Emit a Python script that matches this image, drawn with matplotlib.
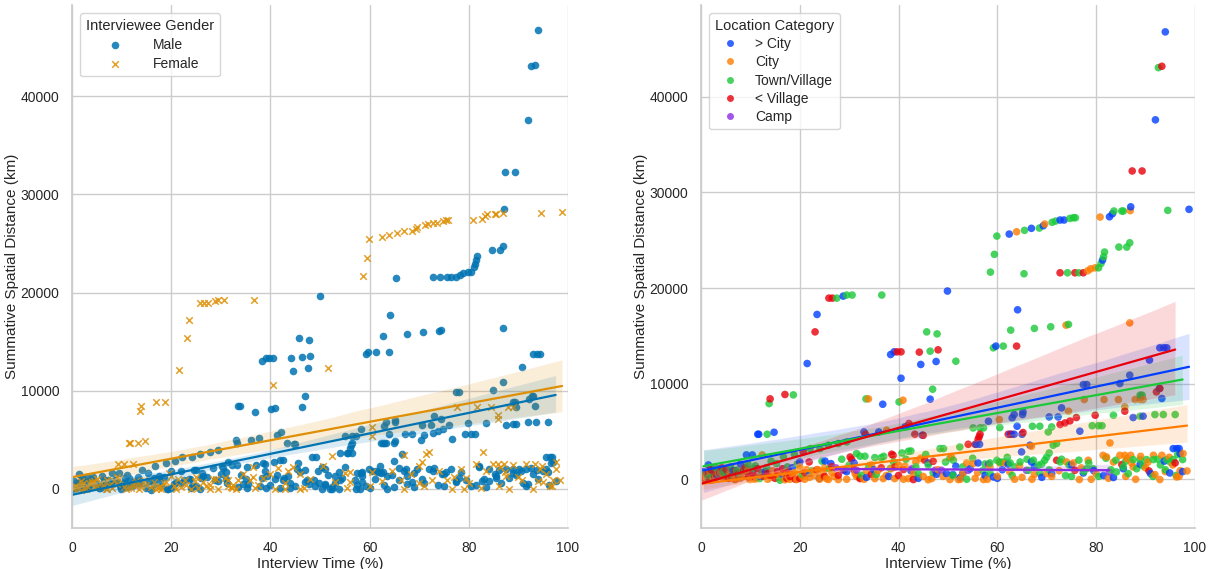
import matplotlib
matplotlib.use("Agg")
import matplotlib.pyplot as plt
from matplotlib.lines import Line2D
import seaborn as sns
import pandas as pd

# points as (interview time %, summative distance km, gender) per location category
city_plus = [
    (94.0, 46800, 'M'), (92.0, 37600, 'M'), (87.0, 28500, 'M'), (83.3, 27780, 'F'), (82.7, 27460, 'F'),
    (98.8, 28240, 'F'), (62.4, 25650, 'F'), (66.9, 26250, 'F'), (69.3, 26520, 'F'), (72.7, 27120, 'F'),
    (73.5, 27120, 'F'), (81.3, 22930, 'M'), (28.8, 19160, 'F'), (49.9, 19690, 'M'), (23.5, 17240, 'F'),
    (21.5, 12110, 'F'), (38.4, 13050, 'M'), (39.1, 13330, 'M'), (40.5, 10570, 'F'), (44.5, 12010, 'M'),
    (47.6, 12320, 'M'), (36.8, 7850, 'M'), (46.4, 8380, 'M'), (11.5, 4710, 'F'), (11.7, 4710, 'F'),
    (14.8, 4920, 'F'), (9.2, 2550, 'F'), (10.4, 2550, 'F'), (64.1, 17730, 'M'), (59.7, 13930, 'M'),
    (92.9, 13750, 'M'), (93.7, 13750, 'M'), (94.3, 13750, 'M'), (90.8, 12460, 'M'), (86.8, 10890, 'M'),
    (77.4, 9910, 'M'), (78.1, 9910, 'M'), (84.8, 10020, 'M'), (73.0, 7470, 'M'), (92.8, 9500, 'M'),
    (93.3, 8450, 'M'), (63.0, 6420, 'M'), (63.4, 6770, 'M'), (65.1, 6770, 'M'), (65.2, 7050, 'M'),
    (70.5, 6520, 'M'), (72.3, 6520, 'M'), (58.2, 6070, 'M'), (64.0, 5550, 'M'), (62.6, 4710, 'M'),
    (63.4, 4710, 'M'), (65.0, 4710, 'M'), (55.7, 3660, 'M'), (56.4, 3660, 'M'), (76.7, 5030, 'M'),
    (87.5, 6460, 'M'), (89.5, 6600, 'M'), (64.9, 2860, 'M'), (66.6, 3560, 'M'), (94.9, 660, 'F'),
    (83.5, 180, 'M'), (77.4, 660, 'M'), (88.9, 1570, 'M'), (95.6, 3210, 'M'), (96.3, 3210, 'M'),
    (96.8, 3210, 'M'), (97.0, 2690, 'M'), (59.2, 240, 'M'), (51.6, 1360, 'M'), (53.0, 660, 'F'),
    (26.3, 1640, 'M'), (47.7, 520, 'M'), (49.7, 600, 'M'), (25.1, 1920, 'M'), (20.0, 1810, 'M'),
    (33.0, 4950, 'M'), (36.0, 4950, 'M'), (41.3, 5480, 'M'), (44.8, 4610, 'M'), (2.0, 1200, 'M'),
    (4.0, 600, 'F'), (0.5, 800, 'M'), (1.5, 1500, 'M'), (3.5, 300, 'M'), (6.5, 900, 'M'),
    (8.0, 1600, 'M'), (13.0, 800, 'F'), (16.5, 500, 'M'), (18.5, 1200, 'M'), (22.0, 600, 'M'),
    (29.5, 800, 'M'), (31.0, 1700, 'M'), (35.0, 1000, 'M'), (38.0, 300, 'M'), (42.5, 900, 'M'),
    (46.0, 1700, 'M'), (51.0, 500, 'M'), (54.5, 1100, 'M'), (57.5, 400, 'M'), (61.0, 1000, 'M'),
    (67.5, 1300, 'M'), (71.0, 600, 'M'), (75.0, 1500, 'M'), (79.5, 900, 'M'), (81.5, 400, 'M'),
    (85.5, 1100, 'M'), (91.0, 600, 'M'), (93.8, 1900, 'M'), (97.5, 800, 'M'), (5.5, 200, 'M'),
    (12.0, 300, 'M'), (24.0, 100, 'M'), (33.5, 200, 'M'), (44.0, 100, 'M'), (52.5, 200, 'M'),
    (60.0, 100, 'M'), (69.0, 200, 'M'), (66.9, 1810, 'M'), (62.2, 1570, 'M'), (56.1, 1710, 'F'),
]

city = [
    (86.9, 28100, 'F'), (80.8, 27430, 'F'), (63.9, 25890, 'F'), (69.6, 26700, 'F'), (78.3, 21810, 'M'),
    (78.9, 22020, 'M'), (79.8, 22120, 'M'), (12.4, 2550, 'F'), (33.9, 8410, 'M'), (40.9, 8270, 'M'),
    (86.8, 16360, 'M'), (73.9, 16120, 'M'), (77.6, 8340, 'F'), (81.6, 8340, 'F'), (84.5, 8340, 'F'),
    (87.9, 8340, 'F'), (88.9, 8340, 'F'), (89.5, 8340, 'M'), (85.8, 7570, 'F'), (74.4, 7120, 'M'),
    (60.4, 6250, 'F'), (82.8, 3800, 'F'), (66.9, 3450, 'F'), (84.8, 2510, 'F'), (85.8, 2510, 'F'),
    (87.0, 2510, 'F'), (86.2, 2170, 'F'), (87.2, 1710, 'F'), (87.5, 1290, 'F'), (78.4, 1990, 'F'),
    (81.4, 2510, 'F'), (82.1, 2340, 'M'), (91.6, 2510, 'F'), (93.3, 2510, 'F'), (97.6, 2690, 'F'),
    (98.4, 870, 'F'), (92.9, -30, 'F'), (96.3, 240, 'F'), (91.9, 490, 'M'), (76.6, -30, 'F'),
    (74.0, 1810, 'F'), (75.4, 1710, 'M'), (60.5, 1710, 'F'), (61.6, 1710, 'M'), (58.5, 1290, 'M'),
    (57.2, -30, 'M'), (55.1, 1640, 'F'), (53.8, 1710, 'M'), (52.1, -30, 'M'), (50.4, -30, 'M'),
    (37.6, 5130, 'M'), (50.7, 2330, 'F'), (40.0, 1470, 'F'), (41.3, 1360, 'M'), (35.2, 70, 'M'),
    (36.9, 70, 'F'), (39.2, 70, 'M'), (42.0, 70, 'M'), (46.7, 70, 'F'), (25.8, -30, 'M'),
    (27.8, -30, 'F'), (30.8, 1120, 'F'), (31.2, 600, 'M'), (21.4, 1010, 'F'), (22.7, 870, 'F'),
    (23.7, 1010, 'M'), (24.8, 770, 'F'), (17.7, 240, 'F'), (19.4, -30, 'M'), (9.9, -30, 'M'),
    (11.3, 70, 'F'), (16.0, 180, 'F'), (24.1, 240, 'M'), (25.4, 70, 'F'), (3.0, 300, 'F'),
    (5.5, 100, 'M'), (7.5, 400, 'F'), (45.0, 300, 'M'), (65.0, 200, 'M'), (70.0, 600, 'F'),
    (1.0, 200, 'F'), (2.0, 500, 'F'), (4.0, 700, 'F'), (6.0, 200, 'F'), (8.5, 800, 'F'),
    (12.0, 400, 'F'), (14.5, 900, 'F'), (18.5, 600, 'F'), (20.5, 300, 'F'), (26.5, 700, 'F'),
    (28.5, 1000, 'F'), (32.0, 200, 'F'), (33.5, 900, 'F'), (34.5, 1500, 'F'), (37.5, 400, 'F'),
    (43.5, 1800, 'F'), (44.5, 2200, 'F'), (48.0, 1000, 'F'), (53.0, 600, 'M'), (56.0, 700, 'F'),
    (62.5, 800, 'F'), (64.5, 1400, 'M'), (67.5, 500, 'M'), (72.5, 900, 'F'), (77.0, 1200, 'F'),
    (80.0, 600, 'F'), (83.5, 1800, 'F'), (89.0, 2400, 'F'), (90.5, 1800, 'M'), (94.8, 2300, 'F'),
    (95.5, 1500, 'F'), (97.0, 900, 'F'), (0.2, 0, 'F'), (1.5, 100, 'F'), (2.5, -50, 'F'),
    (3.5, 600, 'F'), (5.0, 300, 'F'), (6.8, 0, 'F'), (8.0, 100, 'F'), (9.0, 500, 'F'),
    (10.5, 200, 'F'), (13.5, 0, 'F'), (15.0, 400, 'F'), (17.0, -50, 'F'), (19.0, 700, 'F'),
    (21.0, 0, 'F'), (23.0, 400, 'F'), (25.0, 1200, 'F'), (27.0, 300, 'F'), (29.5, 0, 'F'),
    (31.5, 300, 'F'), (33.0, 0, 'F'), (35.8, 900, 'F'), (38.5, 1100, 'F'), (41.0, 0, 'F'),
    (43.0, 600, 'F'), (46.0, -50, 'F'), (49.0, 300, 'M'), (52.5, 0, 'M'), (55.5, 100, 'F'),
    (58.0, 0, 'M'), (60.0, 300, 'F'), (63.5, 0, 'M'), (67.0, 0, 'F'), (71.0, 300, 'F'),
    (79.0, 0, 'F'), (82.5, 100, 'F'), (86.0, 300, 'F'), (88.0, 0, 'F'), (90.0, 1200, 'F'),
    (94.0, 800, 'F'), (96.8, 300, 'F'), (0.7, 300, 'F'), (1.8, 800, 'F'), (2.8, 0, 'F'),
    (4.5, 200, 'F'), (5.8, 600, 'F'), (7.0, -50, 'F'), (9.5, 1000, 'F'), (10.8, 0, 'F'),
    (12.8, 600, 'F'), (14.0, 200, 'F'), (16.5, 700, 'F'), (18.0, 0, 'F'), (20.0, 1300, 'F'),
    (22.0, 200, 'F'), (24.0, 0, 'F'),
]

town = [
    (92.6, 43060, 'M'), (85.2, 28060, 'F'), (85.5, 28060, 'F'), (83.6, 28060, 'F'), (94.5, 28130, 'F'),
    (59.9, 25440, 'F'), (65.5, 26040, 'F'), (68.5, 26280, 'F'), (71.1, 26880, 'F'), (71.8, 27010, 'F'),
    (74.7, 27290, 'F'), (75.4, 27360, 'F'), (75.8, 27360, 'F'), (59.4, 23530, 'F'), (58.6, 21670, 'F'),
    (65.4, 21500, 'M'), (74.2, 21600, 'M'), (76.5, 21600, 'M'), (80.5, 22120, 'M'), (81.0, 22580, 'M'),
    (81.5, 23270, 'M'), (81.7, 23770, 'M'), (84.6, 24290, 'M'), (86.2, 24290, 'M'), (86.8, 24740, 'M'),
    (27.5, 18950, 'F'), (29.5, 19270, 'F'), (30.6, 19270, 'F'), (36.6, 19270, 'F'), (13.8, 7920, 'F'),
    (18.7, 8830, 'F'), (13.4, 4710, 'F'), (45.7, 15420, 'M'), (47.8, 15210, 'M'), (46.4, 13400, 'M'),
    (33.4, 8410, 'M'), (46.9, 9420, 'M'), (40.1, 8090, 'M'), (59.2, 13750, 'M'), (61.2, 13930, 'M'),
    (62.7, 15600, 'M'), (67.5, 15780, 'M'), (70.8, 15950, 'M'), (74.4, 16200, 'M'), (51.6, 12350, 'F'),
    (88.9, 8800, 'M'), (89.3, 8800, 'M'), (91.9, 6770, 'M'), (93.6, 6770, 'M'), (96.0, 6770, 'M'),
    (88.9, 6600, 'M'), (83.5, 6700, 'M'), (79.2, 5600, 'M'), (80.5, 5600, 'M'), (81.2, 5600, 'M'),
    (67.1, 5550, 'M'), (68.6, 5550, 'M'), (70.3, 4950, 'M'), (71.0, 5480, 'M'), (55.1, 5370, 'M'),
    (56.5, 5370, 'M'), (57.2, 5370, 'M'), (60.5, 5410, 'F'), (70.0, 2330, 'F'), (70.5, 2750, 'F'),
    (71.3, 3560, 'F'), (72.0, 3740, 'F'), (68.3, 1470, 'F'), (87.5, 2060, 'M'), (88.9, 2060, 'M'),
    (90.2, 2060, 'M'), (91.6, 2060, 'M'), (94.3, 2060, 'F'), (95.6, 2060, 'M'), (97.5, 2060, 'F'),
    (78.1, 1120, 'M'), (79.4, 1120, 'F'), (84.1, 770, 'M'), (58.5, 660, 'M'), (57.1, 940, 'M'),
    (59.9, 1990, 'M'), (61.2, 1810, 'M'), (64.6, 1810, 'F'), (68.6, 660, 'M'), (53.8, 0, 'M'),
    (52.4, 3380, 'F'), (50.4, 2170, 'M'), (51.1, 1990, 'M'), (58.5, 1710, 'M'), (60.5, 1810, 'M'),
    (32.2, 2410, 'M'), (33.2, 2410, 'M'), (35.2, 2270, 'M'), (36.5, 2270, 'F'), (40.7, 2750, 'M'),
    (42.0, 2930, 'M'), (42.5, 2960, 'M'), (48.4, 3210, 'M'), (49.1, 3210, 'M'), (38.3, 1120, 'M'),
    (29.5, 3910, 'M'), (27.8, 3740, 'M'), (25.8, 3560, 'M'), (32.5, 420, 'F'), (15.3, 1640, 'M'),
    (16.7, 2330, 'M'), (18.9, 2620, 'M'), (22.1, 3210, 'M'), (24.1, 3210, 'M'), (6.5, 240, 'F'),
    (7.2, 940, 'M'), (8.9, 940, 'M'), (10.6, 1120, 'M'), (13.3, 1230, 'M'), (3.8, 1010, 'M'),
    (1.5, 240, 'M'), (11.9, 70, 'F'), (16.0, -100, 'M'), (20.5, 500, 'M'), (44.0, 600, 'M'),
    (46.0, 1500, 'F'), (63.0, 400, 'M'), (75.0, 300, 'M'), (85.5, 1300, 'M'), (0.5, 100, 'F'),
    (5.0, 500, 'M'), (0.8, 600, 'M'), (2.2, 300, 'M'), (3.0, 1200, 'M'), (4.5, 800, 'F'),
    (6.0, 1300, 'M'), (7.8, 500, 'M'), (9.5, 1600, 'M'), (11.0, 1400, 'M'), (12.5, 700, 'M'),
    (14.2, 1900, 'M'), (17.5, 1300, 'M'), (19.5, 1600, 'F'), (22.5, 900, 'M'), (24.5, 1900, 'M'),
    (26.0, 1100, 'M'), (28.5, 2100, 'M'), (30.0, 1500, 'M'), (31.5, 2700, 'M'), (34.0, 1400, 'M'),
    (35.5, 500, 'M'), (37.0, 2400, 'M'), (39.0, 1800, 'M'), (41.5, 2100, 'F'), (43.5, 1300, 'M'),
    (45.5, 2600, 'M'), (47.0, 700, 'M'), (49.5, 1800, 'M'), (51.0, 400, 'M'), (53.0, 1300, 'M'),
    (55.0, 2200, 'M'), (57.5, 1600, 'M'), (62.0, 2300, 'M'), (63.5, 1300, 'M'), (66.0, 2100, 'M'),
    (69.0, 1600, 'M'), (73.0, 2100, 'M'), (74.5, 1500, 'M'), (76.5, 2000, 'M'), (78.5, 1700, 'M'),
    (82.0, 2200, 'M'), (84.0, 2000, 'M'), (86.0, 1900, 'M'), (89.5, 1400, 'M'), (92.5, 2100, 'M'),
    (93.0, 1500, 'M'), (95.0, 1800, 'M'), (96.5, 2600, 'M'), (80.5, 300, 'M'), (83.0, 1000, 'M'),
    (86.5, 600, 'M'), (88.2, 1100, 'M'), (91.5, 300, 'M'), (94.0, 1000, 'M'), (96.2, 400, 'M'),
    (77.5, 800, 'M'), (73.8, 400, 'M'), (70.5, 1000, 'M'), (72.7, 1810, 'M'), (62.6, 1710, 'M'),
    (69.6, 1990, 'M'), (67.3, 1990, 'M'), (66.3, 940, 'F'),
]

village = [
    (93.3, 43200, 'M'), (87.3, 32250, 'M'), (89.3, 32250, 'M'), (72.7, 21600, 'M'), (75.7, 21600, 'M'),
    (77.4, 21600, 'M'), (25.9, 18950, 'F'), (26.6, 18950, 'F'), (23.1, 15420, 'F'), (14.0, 8410, 'F'),
    (17.0, 8870, 'F'), (39.7, 13330, 'M'), (40.5, 13330, 'M'), (44.2, 13300, 'M'), (48.0, 13540, 'M'),
    (63.9, 13930, 'M'), (92.2, 9140, 'M'), (92.9, 9500, 'M'), (85.8, 7120, 'F'), (79.8, 6700, 'M'),
    (76.0, 6460, 'M'), (74.7, 6100, 'M'), (73.7, 5890, 'M'), (72.7, 5730, 'M'), (62.2, 4710, 'M'),
    (62.9, 4710, 'M'), (54.1, 3660, 'M'), (55.5, 3660, 'M'), (56.5, 4710, 'M'), (56.3, 4430, 'M'),
    (56.1, 4160, 'M'), (90.7, 870, 'F'), (65.2, 4890, 'M'), (42.1, 5830, 'M'), (43.3, 4710, 'M'),
    (45.0, 4600, 'M'), (33.3, 4710, 'M'), (30.2, 2330, 'M'), (30.5, 2090, 'M'), (38.6, 2620, 'M'),
    (38.9, 2510, 'M'), (32.2, 70, 'F'), (43.0, -30, 'F'), (39.3, 1290, 'M'), (41.0, 1020, 'M'),
    (29.1, 1020, 'F'), (27.8, 420, 'F'), (45.3, 1990, 'M'), (47.0, 1880, 'M'), (2.5, 870, 'M'),
    (5.1, 1010, 'F'), (0.8, 30, 'M'), (1.8, -100, 'F'), (20.7, 2860, 'M'), (21.9, 1810, 'M'),
    (17.4, 100, 'F'), (19.1, 0, 'M'), (8.6, 940, 'M'), (14.0, 420, 'F'), (9.6, 240, 'M'),
    (0.3, 200, 'M'), (1.2, 600, 'M'), (3.2, 400, 'M'), (4.2, 1200, 'M'), (6.2, 300, 'M'),
    (7.0, 900, 'F'), (10.5, 600, 'M'), (11.5, 1100, 'M'), (12.8, 300, 'F'), (15.5, 800, 'M'),
    (16.5, 1100, 'M'), (18.0, 300, 'M'), (20.0, 100, 'M'), (21.0, 700, 'M'), (23.5, 1000, 'M'),
    (25.0, 300, 'M'), (26.5, 1300, 'M'), (31.0, 1000, 'M'), (34.5, 500, 'M'), (36.5, 1200, 'F'),
    (40.0, 400, 'M'), (0.1, -50, 'M'), (0.6, 400, 'M'), (2.0, 1000, 'M'), (2.8, 200, 'M'),
    (3.8, 700, 'M'), (5.6, 100, 'M'), (7.5, 500, 'M'), (9.0, 1200, 'F'), (11.0, 200, 'M'),
    (13.5, 600, 'M'), (15.0, 100, 'M'), (17.8, 900, 'M'), (96.0, 1710, 'M'), (85.2, 1540, 'M'),
    (72.0, 1990, 'M'), (75.7, 940, 'F'),
]

camp = [
    (27.3, 1200, 'M'), (28.8, 940, 'M'), (31.5, 940, 'F'), (42.7, 1120, 'M'), (47.4, 940, 'M'),
    (48.7, 940, 'M'), (54.1, 940, 'M'), (58.2, 1570, 'M'), (65.9, 940, 'M'), (82.7, 770, 'M'),
]

locations = ['> City', 'City', 'Town/Village', '< Village', 'Camp']
genders = ['Male', 'Female']

rows = []
for loc, pts in zip(locations, [city_plus, city, town, village, camp]):
    for x, y, g in pts:
        rows.append({'time': x, 'dist': y, 'loc': loc, 'gender': 'Male' if g == 'M' else 'Female'})
df = pd.DataFrame(rows).sort_values('time', kind='stable')

sns.set_theme(style='whitegrid')
plt.rcParams['font.family'] = ['Liberation Sans', 'DejaVu Sans']

fig = plt.figure(figsize=(12.14, 5.69), dpi=100)
ax1 = fig.add_axes([0.0593, 0.072, 0.4086, 0.919])
ax2 = fig.add_axes([0.5774, 0.072, 0.4069, 0.919])

pal1 = sns.color_palette('colorblind', 2)
pal2 = sns.color_palette('bright', 5)

# left: by gender
male = df[df.gender == 'Male']
female = df[df.gender == 'Female']
ax1.scatter(male.time, male.dist, s=30, color=pal1[0], alpha=0.85, linewidths=0, label='Male')
ax1.scatter(female.time, female.dist, s=22, color=pal1[1], alpha=0.85, marker='x',
            linewidths=1.1, label='Female')
for g, c in zip(genders, pal1):
    sub = df[df.gender == g]
    sns.regplot(data=sub, x='time', y='dist', scatter=False, color=c, ax=ax1, seed=1,
                line_kws={'linewidth': 1.6})
ax1.set_xlim(0, 100)
ax1.set_ylim(-4000, 49300)
ax1.legend(title='Interviewee Gender', loc='upper left', fontsize=10, title_fontsize=10.5,
           borderaxespad=0.6, handletextpad=1.7, labelspacing=0.35)

# right: by location category
cmap = dict(zip(locations, pal2))
ax2.scatter(df.time, df.dist, s=30, c=[cmap[l] for l in df['loc']], alpha=0.8, linewidths=0)
for loc, c in zip(locations, pal2):
    sub = df[df['loc'] == loc]
    sns.regplot(data=sub, x='time', y='dist', scatter=False, color=c, ax=ax2, seed=1,
                line_kws={'linewidth': 1.6})
ax2.set_xlim(0, 100)
ax2.set_ylim(-5100, 49600)
handles = [Line2D([], [], marker='o', linestyle='', color=c, alpha=0.8, markersize=5,
                  markeredgewidth=0) for c in pal2]
ax2.legend(handles, locations, title='Location Category', loc='upper left', fontsize=10,
           title_fontsize=10.5, borderaxespad=0.6, labelspacing=0.3)

for ax in (ax1, ax2):
    ax.set_xlabel('Interview Time (%)', fontsize=11, labelpad=2)
    ax.set_ylabel('Summative Spatial Distance (km)', fontsize=11, labelpad=1)
    ax.tick_params(labelsize=10, pad=3)
    sns.despine(ax=ax)

fig.savefig('out.png', dpi=100)
